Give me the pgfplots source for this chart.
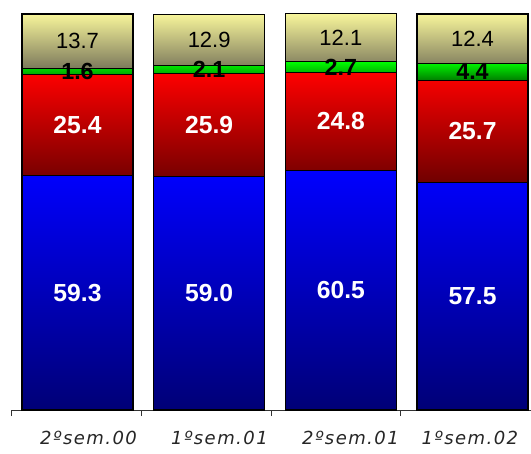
\documentclass[border=0pt]{standalone}
\usepackage{pgfplots}
\pgfplotsset{compat=1.18}
\usepackage{pgfplotstable}
\usepackage{fontspec}
\setmainfont{Liberation Sans}
\newfontfamily\catfont[LetterSpace=8]{DejaVu Sans}

% segment gradients (top -> bottom)
\definecolor{blueTop}{RGB}{0,0,255}
\definecolor{blueBot}{RGB}{0,0,118}
\definecolor{redTop}{RGB}{255,0,0}
\definecolor{redBot}{RGB}{112,0,0}
\definecolor{greenTop}{RGB}{0,255,0}
\definecolor{greenBot}{RGB}{0,125,0}
\definecolor{khakiTop}{RGB}{248,246,155}
\definecolor{khakiBot}{RGB}{125,122,92}

% shares per semester (%), bottom to top
\pgfplotstableread{
x  blue  red   green khaki
0  59.3  25.4  1.6   13.7
1  59.0  25.9  2.1   12.9
2  60.5  24.8  2.7   12.1
3  57.5  25.7  4.4   12.4
}\shares

\begin{document}
\begin{tikzpicture}
\useasboundingbox (-58.125pt,-32.25pt) rectangle (340.125pt,307.5pt);
\clip (-58.125pt,-32.25pt) rectangle (340.125pt,307.5pt);
\begin{axis}[
  at={(0,0)}, anchor=origin,
  x=98.75pt, y=2.97pt,
  xmin=-0.505, xmax=3.45, ymin=0, ymax=100,
  axis y line=none,
  axis x line*=bottom,
  x axis line style={draw=black!80, line width=0.6pt, -},
  ybar stacked, bar width=83.25pt,
  xtick={0.084,1.078,2.073,2.98},
  xticklabels={2ºsem.00,1ºsem.01,2ºsem.01,1ºsem.02},
  major tick length=0pt,
  extra x ticks={-0.505,0.482,1.47,2.449},
  extra x tick labels={},
  extra x tick style={major tick length=4.5pt, xtick align=outside,
    tick style={draw=black!80, line width=0.6pt}},
  xticklabel style={font=\catfont\itshape\fontsize{13.5}{14}\selectfont,
    text=black!85, yshift=-12pt},
  clip=false,
  point meta=explicit,
  nodes near coords={\pgfmathprintnumber[assume math mode=true,fixed,fixed zerofill,precision=1]{\pgfplotspointmeta}},
  every node near coord/.append style={anchor=center},
]
\addplot[draw=black, line width=0.8pt, top color=blueTop, bottom color=blueBot,
  every node near coord/.append style={text=white,
    font=\bfseries\fontsize{18.5}{20}\selectfont}]
  table[x=x, y=blue, meta=blue]{\shares};
\addplot[draw=black, line width=0.8pt, top color=redTop, bottom color=redBot,
  every node near coord/.append style={text=white,
    font=\bfseries\fontsize{18.5}{20}\selectfont}]
  table[x=x, y=red, meta=red]{\shares};
\addplot[draw=black, line width=0.8pt, top color=greenTop, bottom color=greenBot,
  every node near coord/.append style={text=black,
    font=\bfseries\fontsize{17.5}{19}\selectfont}]
  table[x=x, y=green, meta=green]{\shares};
\addplot[draw=black, line width=0.8pt, top color=khakiTop, bottom color=khakiBot,
  every node near coord/.append style={text=black,
    font=\fontsize{16.5}{18}\selectfont}]
  table[x=x, y=khaki, meta=khaki]{\shares};
\end{axis}
\end{tikzpicture}
\end{document}
